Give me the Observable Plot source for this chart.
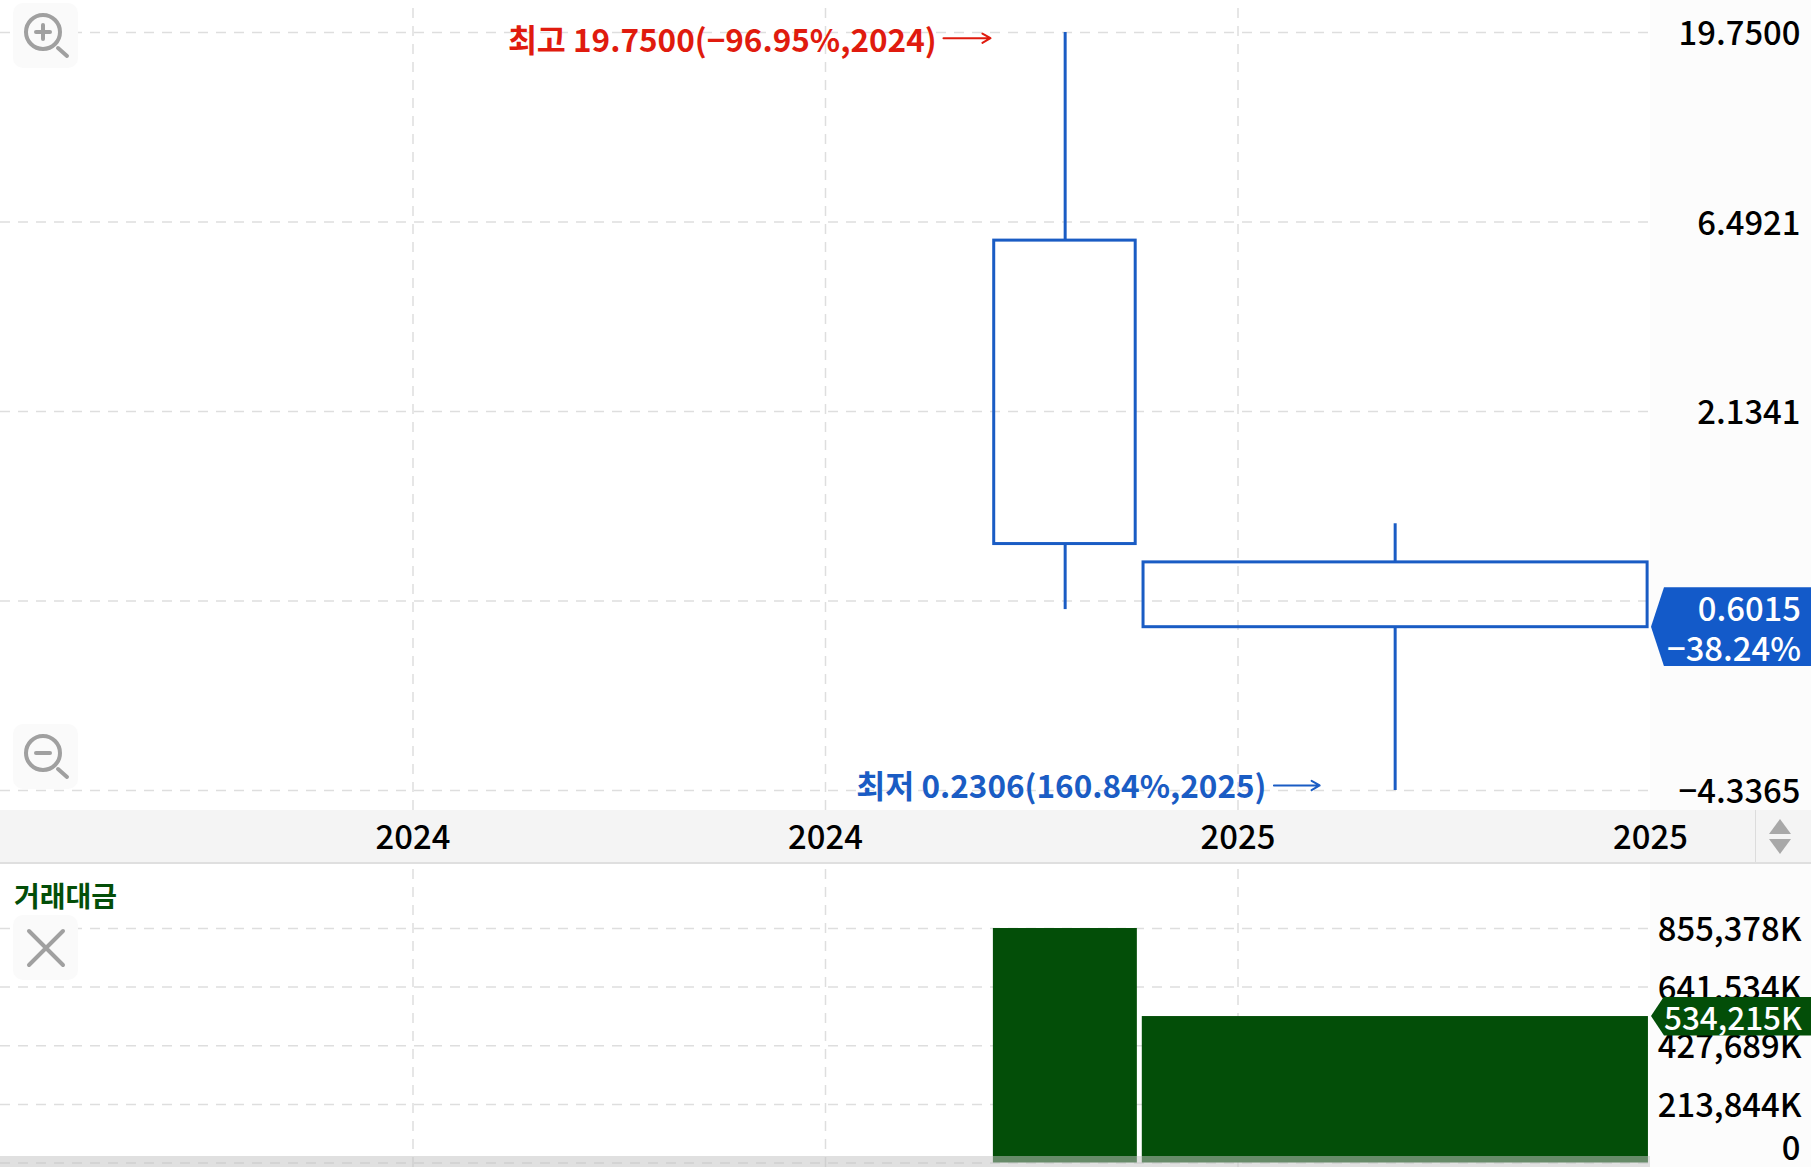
<!DOCTYPE html>
<html><head><meta charset="utf-8">
<script src="https://cdn.jsdelivr.net/npm/d3@7"></script>
<script src="https://cdn.jsdelivr.net/npm/@observablehq/plot@0.6"></script>
<style>
html,body{margin:0;padding:0;background:#fff;overflow:hidden}
#stage{position:relative;width:1811px;height:1167px;overflow:hidden;font-family:"Noto Sans CJK KR","Noto Sans",sans-serif}
#stage>*{position:absolute}
#stage svg{display:block}
.tag{color:#fff;text-align:right;box-sizing:border-box;padding-right:10px;font-size:32.8px;font-weight:500;white-space:pre}
</style></head><body><div id="stage"></div>
<script>
// Time positions are half-year periods along the axis
const gridPeriods = [1, 2, 3, 4];
const periodLabels = ["2024", "2024", "2025", "2025"];
const periodDomain = [0, 4];

// Candles
const candleStart = [2.409, 2.771];
const candleEnd   = [2.752, 3.993];
const candleMid   = [2.581, 3.381];
const opens  = [5.82, 0.880];
const highs  = [19.75, 1.104];
const lows   = [0.667, 0.2306];
const closes = [0.98, 0.6015];

// Price axis
const priceTicks = [19.75, 6.4921, 2.1341, 0.7015, 0.2306];
const priceLabels = ["19.7500", "6.4921", "2.1341", "", "−4.3365"];
const priceDomain = [0.2306, 19.75];
const priceGridExtent = [0.205, 23.0];

// Annotations
const highNote = "최고 19.7500(−96.95%,2024)";
const lowNote = "최저 0.2306(160.84%,2025)";
const lastPrice = 0.6015;
const lastPriceLabels = ["0.6015", "−38.24%"];

// Turnover pane
const turnover = [855378, 534215];
const turnoverBarStart = [2.407, 2.768];
const turnoverBarEnd   = [2.756, 3.995];
const turnoverTicks = [855378, 641534, 427689, 213844, 0];
const turnoverLabels = ["855,378K", "641,534K", "427,689K", "213,844K", "0"];
const turnoverGridExtent = [-16400, 1088800];
const turnoverTitle = "거래대금";
const lastTurnoverLabel = "534,215K";

const BLUE = "#1a5cc4", TAG_BLUE = "#135ac9", RED = "#e01b0e", GREEN = "#034e08", GRID = "#dedede";
const FONT = '"Noto Sans CJK KR","Noto Sans",sans-serif';
const DASH = "10,8";
const idx = d3.range(2);
const stage = document.getElementById("stage");

function bg(l, t, w, h, color, extra = "") {
  const d = document.createElement("div");
  d.style.cssText = `left:${l}px;top:${t}px;width:${w}px;height:${h}px;background:${color};${extra}`;
  stage.append(d);
  return d;
}
bg(1650, 0, 161, 1167, "#fcfcfc");
bg(0, 810, 1811, 52, "#f4f4f4");
bg(0, 862, 1811, 2, "#dfdfdf");
bg(1755, 810, 1, 52, "#dcdcdc");

const priceChart = Plot.plot({
  width: 1811, height: 864,
  marginLeft: 0, marginRight: 161, marginTop: 0, marginBottom: 54,
  style: {background: "transparent", fontFamily: FONT, overflow: "visible"},
  x: {domain: periodDomain, axis: null},
  y: {type: "log", domain: priceDomain, range: [790, 32], axis: null},
  marks: [
    Plot.ruleY(priceTicks, {x1: 0, x2: 4, stroke: GRID, strokeWidth: 1.5, strokeDasharray: DASH, strokeOpacity: 1}),
    Plot.ruleX(gridPeriods.slice(0, 3), {y1: priceGridExtent[0], y2: priceGridExtent[1], stroke: GRID, strokeWidth: 1.5, strokeDasharray: DASH}),
    Plot.ruleX(idx, {x: i => candleMid[i], y1: i => highs[i], y2: i => Math.max(opens[i], closes[i]), stroke: BLUE, strokeWidth: 3}),
    Plot.ruleX(idx, {x: i => candleMid[i], y1: i => lows[i], y2: i => Math.min(opens[i], closes[i]), stroke: BLUE, strokeWidth: 3}),
    Plot.rect(idx, {x1: i => candleStart[i], x2: i => candleEnd[i], y1: i => opens[i], y2: i => closes[i], fill: "none", stroke: BLUE, strokeWidth: 3}),
    Plot.text(priceTicks, {x: 4, y: d => d, text: (d, i) => priceLabels[i], textAnchor: "end", dx: 150, dy: 2, fontSize: 32.8, fontWeight: 500, fill: "#000"}),
    Plot.text(gridPeriods, {x: d => d, y: priceDomain[0], text: (d, i) => periodLabels[i], dy: 48, fontSize: 32.8, fontWeight: 500, fill: "#000"}),
    Plot.text([highNote], {x: 2.267, y: 19.75, text: d => d, textAnchor: "end", dx: 1, dy: 9, fontSize: 31.5, fontWeight: 700, fill: RED}),
    Plot.arrow([0], {x1: 2.286, x2: 2.4, y1: 19.1, y2: 19.1, stroke: RED, strokeWidth: 2, headLength: 7, bend: 0}),
    Plot.text([lowNote], {x: 3.069, y: 0.2306, text: d => d, textAnchor: "end", dy: -3, fontSize: 31.5, fontWeight: 700, fill: BLUE}),
    Plot.arrow([0], {x1: 3.087, x2: 3.198, y1: 0.2375, y2: 0.2375, stroke: BLUE, strokeWidth: 2, headLength: 7, bend: 0})
  ]
});
priceChart.style.left = "0"; priceChart.style.top = "0";
stage.append(priceChart);

const turnoverChart = Plot.plot({
  width: 1811, height: 303,
  marginLeft: 0, marginRight: 161, marginTop: 0, marginBottom: 0,
  style: {background: "transparent", fontFamily: FONT, overflow: "visible"},
  x: {domain: periodDomain, axis: null},
  y: {domain: [0, 855378], range: [298.5, 64], axis: null},
  marks: [
    Plot.ruleY(turnoverTicks, {x1: 0, x2: 4, stroke: GRID, strokeWidth: 1.5, strokeDasharray: DASH}),
    Plot.ruleX(gridPeriods.slice(0, 3), {y1: turnoverGridExtent[0], y2: turnoverGridExtent[1], stroke: GRID, strokeWidth: 1.5, strokeDasharray: DASH}),
    Plot.rectY(idx, {x1: i => turnoverBarStart[i], x2: i => turnoverBarEnd[i], y1: 0, y2: i => turnover[i], fill: GREEN}),
    Plot.text(turnoverTicks.filter(d => d > 0), {x: 4, y: d => d, text: (d, i) => turnoverLabels[i], textAnchor: "end", dx: 151, dy: 2, fontSize: 32.8, fontWeight: 500, fill: "#000"}),
    Plot.text([0], {x: 4, y: 0, text: () => turnoverLabels[4], textAnchor: "end", dx: 150, dy: -14, fontSize: 32.8, fontWeight: 500, fill: "#000"})
  ]
});
turnoverChart.style.left = "0"; turnoverChart.style.top = "864px";
stage.append(turnoverChart);

// Scrollbar band
bg(0, 1156, 1650, 11, "rgba(196,196,196,0.52)");

// Last value tags, anchored through the chart scales
const py = priceChart.scale("y").apply(lastPrice);
const tagPrice = bg(1651, py - 39.5, 160, 79, TAG_BLUE, "clip-path:polygon(0 50%,13px 0,100% 0,100% 100%,13px 100%);");
tagPrice.className = "tag";
tagPrice.style.lineHeight = "40px";
tagPrice.textContent = lastPriceLabels.join("\n");

const vy = 864 + turnoverChart.scale("y").apply(turnover[1]);
const tagVol = bg(1651, vy - 19.5, 160, 39, GREEN, "clip-path:polygon(0 50%,13px 0,100% 0,100% 100%,13px 100%);");
tagVol.className = "tag";
tagVol.style.lineHeight = "39px";
tagVol.style.paddingRight = "9px";
tagVol.style.fontSize = "31.5px";
tagVol.textContent = lastTurnoverLabel;

// Pane title
const paneTitle = document.createElement("div");
paneTitle.textContent = turnoverTitle;
paneTitle.style.cssText = `left:14px;top:875px;font-size:28px;line-height:40px;font-weight:700;color:${GREEN}`;
stage.append(paneTitle);

// Toolbar buttons
function button(t, glyph) {
  const d = bg(13, t, 65, 65, "#fafafa", "border-radius:10px;");
  d.innerHTML = `<svg width="65" height="65" fill="none" stroke="#a0a0a0" stroke-width="4" stroke-linecap="round">${glyph}</svg>`;
}
const lens = extra => `<circle cx="30" cy="29" r="17"/><path d="M45 45L54 53"/>${extra}`;
button(3, lens('<path d="M23 29H37M30 22V36" stroke-width="4"/>'));
button(724, lens('<path d="M23 29H37"/>'));
button(915, '<path d="M16 16L50 50M50 16L16 50"/>');

// Scale stepper arrows
const stepper = document.createElement("div");
stepper.style.cssText = "left:1768px;top:816px;width:24px;height:40px";
stepper.innerHTML = '<svg width="24" height="40" fill="#a8a8a8"><path d="M12 3L23 18H1Z"/><path d="M12 38L23 23H1Z"/></svg>';
stage.append(stepper);
</script></body></html>
